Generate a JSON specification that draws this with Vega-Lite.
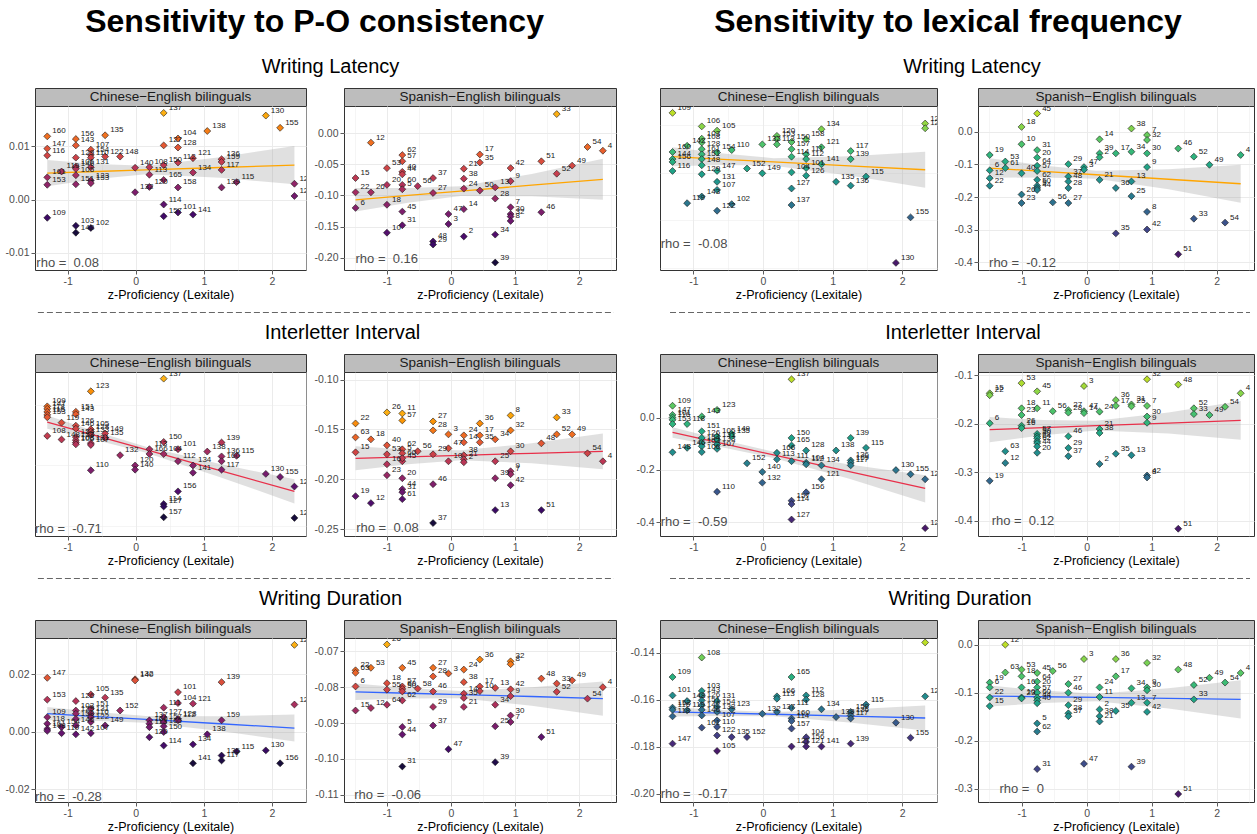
{
"$schema": "https://vega.github.io/schema/vega-lite/v6.json",
"background": "white",
"padding": {"top": 5, "left": 4, "right": 0, "bottom": 0},
"config": {
  "font": "Liberation Sans",
  "view": {"stroke": "#333333", "strokeWidth": 1},
  "axis": {"domain": false, "labelColor": "#4d4d4d", "labelFontSize": 10.5, "tickColor": "#333333", "tickSize": 4, "tickWidth": 0.8, "gridColor": "#ebebeb", "titleFontSize": 12.5, "titleFontWeight": "normal", "titleColor": "#000000", "labelPadding": 2, "titlePadding": 2, "labelOverlap": false}
},
"datasets": {
"p1": [{"x":0.41,"y":0.0163,"id":137},{"x":1.91,"y":0.0158,"id":130},{"x":2.12,"y":0.0135,"id":155},{"x":-1.30,"y":0.0119,"id":160},{"x":-1.30,"y":0.0096,"id":147},{"x":-1.30,"y":0.0083,"id":116},{"x":-0.88,"y":0.0114,"id":156},{"x":-0.88,"y":0.0102,"id":143},{"x":-0.88,"y":0.0079,"id":129},{"x":-0.66,"y":0.0094,"id":107},{"x":-0.66,"y":0.0084,"id":154},{"x":-0.45,"y":0.0121,"id":135},{"x":-0.45,"y":0.0081,"id":122},{"x":-0.23,"y":0.0081,"id":148},{"x":-0.88,"y":0.0062,"id":106},{"x":-0.88,"y":0.0058,"id":146},{"x":-0.88,"y":0.0046,"id":105},{"x":-0.88,"y":0.0029,"id":151},{"x":-1.09,"y":0.0053,"id":119},{"x":-1.30,"y":0.0042,"id":161},{"x":-1.30,"y":0.0028,"id":153},{"x":-0.66,"y":0.0061,"id":131},{"x":-0.66,"y":0.0036,"id":123},{"x":-0.66,"y":0.0031,"id":133},{"x":-0.01,"y":0.0060,"id":140},{"x":0.20,"y":0.0061,"id":108},{"x":0.20,"y":0.0047,"id":113},{"x":0.20,"y":0.0024,"id":120},{"x":0.41,"y":0.0102,"id":127},{"x":0.41,"y":0.0065,"id":150},{"x":0.41,"y":0.0037,"id":165},{"x":0.41,"y":-0.0009,"id":114},{"x":0.41,"y":-0.0031,"id":157},{"x":0.62,"y":0.0115,"id":104},{"x":0.62,"y":0.0098,"id":128},{"x":0.62,"y":0.0070,"id":112},{"x":0.62,"y":0.0023,"id":158},{"x":0.62,"y":-0.0024,"id":101},{"x":0.84,"y":0.0078,"id":121},{"x":0.84,"y":0.0051,"id":134},{"x":0.84,"y":-0.0028,"id":141},{"x":1.05,"y":0.0129,"id":138},{"x":1.26,"y":0.0076,"id":136},{"x":1.26,"y":0.0071,"id":159},{"x":1.26,"y":0.0056,"id":117},{"x":1.26,"y":0.0023,"id":139},{"x":1.48,"y":0.0033,"id":115},{"x":2.33,"y":0.0030,"id":124},{"x":2.33,"y":0.0007,"id":125},{"x":-0.01,"y":0.0014,"id":132},{"x":-1.30,"y":-0.0034,"id":109},{"x":-0.88,"y":-0.0049,"id":103},{"x":-0.88,"y":-0.0062,"id":142},{"x":-0.66,"y":-0.0053,"id":102},{"x":-0.66,"y":0.0079,"id":110}],
"f1": [{"x":-1.30,"y":0.0050,"lo":0.00252,"hi":0.00748},{"x":-0.575,"y":0.0053,"lo":0.00388,"hi":0.00672},{"x":0.15,"y":0.0056,"lo":0.0048,"hi":0.0064},{"x":1.24,"y":0.00605,"lo":0.00412,"hi":0.00798},{"x":2.33,"y":0.0065,"lo":0.0029,"hi":0.0101}],
"p2": [{"x":1.65,"y":0.031,"id":33},{"x":-1.25,"y":-0.015,"id":12},{"x":-0.76,"y":-0.035,"id":62},{"x":-0.76,"y":-0.045,"id":57},{"x":-1.00,"y":-0.056,"id":53},{"x":-0.76,"y":-0.062,"id":40},{"x":-0.76,"y":-0.066,"id":44},{"x":-1.49,"y":-0.072,"id":15},{"x":-0.28,"y":-0.072,"id":37},{"x":-1.00,"y":-0.083,"id":20},{"x":-0.76,"y":-0.083,"id":60},{"x":-0.76,"y":-0.090,"id":5},{"x":-1.49,"y":-0.095,"id":22},{"x":-1.25,"y":-0.095,"id":26},{"x":-0.52,"y":-0.085,"id":56},{"x":-0.28,"y":-0.096,"id":27},{"x":0.20,"y":-0.057,"id":21},{"x":0.20,"y":-0.073,"id":38},{"x":0.20,"y":-0.089,"id":24},{"x":0.45,"y":-0.034,"id":17},{"x":0.45,"y":-0.047,"id":35},{"x":0.45,"y":-0.092,"id":50},{"x":0.69,"y":-0.087,"id":13},{"x":0.93,"y":-0.056,"id":42},{"x":0.93,"y":-0.077,"id":9},{"x":0.69,"y":-0.105,"id":28},{"x":0.93,"y":-0.119,"id":7},{"x":0.93,"y":-0.130,"id":30},{"x":0.93,"y":-0.134,"id":32},{"x":0.93,"y":-0.141,"id":8},{"x":1.41,"y":-0.045,"id":51},{"x":1.65,"y":-0.065,"id":52},{"x":1.89,"y":-0.052,"id":49},{"x":2.13,"y":-0.022,"id":54},{"x":2.37,"y":-0.028,"id":4},{"x":1.41,"y":-0.127,"id":46},{"x":-1.00,"y":-0.115,"id":18},{"x":-1.49,"y":-0.120,"id":6},{"x":-0.76,"y":-0.126,"id":45},{"x":-1.00,"y":-0.160,"id":10},{"x":-0.76,"y":-0.148,"id":31},{"x":-0.04,"y":-0.130,"id":47},{"x":-0.04,"y":-0.146,"id":3},{"x":0.20,"y":-0.122,"id":14},{"x":0.20,"y":-0.166,"id":2},{"x":0.69,"y":-0.163,"id":34},{"x":-0.28,"y":-0.174,"id":48},{"x":-0.28,"y":-0.179,"id":29},{"x":0.69,"y":-0.208,"id":39}],
"f2": [{"x":-1.49,"y":-0.107,"lo":-0.126,"hi":-0.088},{"x":-0.67,"y":-0.100,"lo":-0.1118,"hi":-0.0882},{"x":0.15,"y":-0.093,"lo":-0.101,"hi":-0.085},{"x":1.26,"y":-0.0835,"lo":-0.1014,"hi":-0.0656},{"x":2.37,"y":-0.074,"lo":-0.107,"hi":-0.041}],
"p3": [{"x":-1.30,"y":-0.0235,"id":109},{"x":-0.88,"y":-0.052,"id":106},{"x":-0.66,"y":-0.061,"id":105},{"x":-0.88,"y":-0.078,"id":103},{"x":-0.88,"y":-0.086,"id":108},{"x":-1.09,"y":-0.093,"id":142},{"x":-1.30,"y":-0.106,"id":160},{"x":-1.30,"y":-0.121,"id":144},{"x":-1.30,"y":-0.127,"id":156},{"x":-1.30,"y":-0.146,"id":116},{"x":-0.88,"y":-0.100,"id":128},{"x":-0.88,"y":-0.111,"id":161},{"x":-0.88,"y":-0.121,"id":151},{"x":-0.88,"y":-0.134,"id":148},{"x":-0.88,"y":-0.153,"id":129},{"x":-0.66,"y":-0.107,"id":154},{"x":-0.45,"y":-0.102,"id":110},{"x":-0.66,"y":-0.146,"id":147},{"x":-0.66,"y":-0.169,"id":131},{"x":-0.66,"y":-0.186,"id":107},{"x":-0.66,"y":-0.230,"id":122},{"x":-0.88,"y":-0.200,"id":143},{"x":-1.09,"y":-0.214,"id":119},{"x":-0.45,"y":-0.216,"id":102},{"x":-0.23,"y":-0.141,"id":152},{"x":-0.01,"y":-0.151,"id":149},{"x":-0.01,"y":-0.090,"id":132},{"x":0.20,"y":-0.072,"id":120},{"x":0.20,"y":-0.079,"id":153},{"x":0.20,"y":-0.090,"id":113},{"x":0.41,"y":-0.085,"id":150},{"x":0.41,"y":-0.100,"id":157},{"x":0.41,"y":-0.116,"id":114},{"x":0.41,"y":-0.149,"id":104},{"x":0.41,"y":-0.183,"id":127},{"x":0.41,"y":-0.218,"id":137},{"x":0.62,"y":-0.079,"id":158},{"x":0.62,"y":-0.111,"id":111},{"x":0.62,"y":-0.121,"id":112},{"x":0.62,"y":-0.140,"id":101},{"x":0.62,"y":-0.156,"id":126},{"x":0.84,"y":-0.058,"id":134},{"x":0.84,"y":-0.096,"id":121},{"x":0.84,"y":-0.132,"id":141},{"x":1.26,"y":-0.104,"id":117},{"x":1.26,"y":-0.121,"id":139},{"x":1.26,"y":-0.177,"id":136},{"x":1.05,"y":-0.169,"id":135},{"x":1.48,"y":-0.158,"id":115},{"x":2.12,"y":-0.244,"id":155},{"x":1.91,"y":-0.340,"id":130},{"x":2.33,"y":-0.046,"id":124},{"x":2.33,"y":-0.056,"id":125}],
"f3": [{"x":-1.30,"y":-0.116,"lo":-0.136,"hi":-0.096},{"x":-0.575,"y":-0.1215,"lo":-0.1337,"hi":-0.1093},{"x":0.15,"y":-0.127,"lo":-0.135,"hi":-0.119},{"x":1.24,"y":-0.1353,"lo":-0.1555,"hi":-0.1151},{"x":2.33,"y":-0.1435,"lo":-0.1815,"hi":-0.1055}],
"p4": [{"x":-0.76,"y":0.056,"id":45},{"x":-1.00,"y":0.015,"id":18},{"x":-1.00,"y":-0.038,"id":10},{"x":-1.49,"y":-0.071,"id":19},{"x":-1.25,"y":-0.091,"id":53},{"x":-0.76,"y":-0.056,"id":31},{"x":-0.76,"y":-0.079,"id":20},{"x":-0.76,"y":-0.104,"id":64},{"x":-0.76,"y":-0.120,"id":57},{"x":-0.76,"y":-0.147,"id":62},{"x":-0.76,"y":-0.165,"id":50},{"x":-0.76,"y":-0.172,"id":5},{"x":-0.76,"y":-0.178,"id":44},{"x":-1.49,"y":-0.118,"id":6},{"x":-1.49,"y":-0.142,"id":12},{"x":-1.49,"y":-0.165,"id":22},{"x":-1.25,"y":-0.111,"id":61},{"x":-1.00,"y":-0.127,"id":40},{"x":-1.00,"y":-0.192,"id":26},{"x":-1.00,"y":-0.218,"id":23},{"x":-0.52,"y":-0.216,"id":56},{"x":-0.28,"y":-0.218,"id":27},{"x":-0.28,"y":-0.099,"id":29},{"x":-0.28,"y":-0.137,"id":37},{"x":-0.28,"y":-0.152,"id":48},{"x":-0.28,"y":-0.172,"id":28},{"x":-0.04,"y":-0.108,"id":47},{"x":-0.04,"y":-0.116,"id":3},{"x":0.20,"y":-0.023,"id":14},{"x":0.20,"y":-0.066,"id":39},{"x":0.20,"y":-0.078,"id":2},{"x":0.20,"y":-0.147,"id":21},{"x":0.45,"y":-0.066,"id":17},{"x":0.45,"y":-0.172,"id":36},{"x":0.45,"y":-0.311,"id":35},{"x":0.69,"y":0.010,"id":38},{"x":0.69,"y":-0.061,"id":34},{"x":0.69,"y":-0.152,"id":13},{"x":0.69,"y":-0.197,"id":25},{"x":0.93,"y":-0.010,"id":7},{"x":0.93,"y":-0.025,"id":32},{"x":0.93,"y":-0.066,"id":30},{"x":0.93,"y":-0.108,"id":9},{"x":0.93,"y":-0.245,"id":8},{"x":0.93,"y":-0.299,"id":42},{"x":1.41,"y":-0.051,"id":46},{"x":1.41,"y":-0.375,"id":51},{"x":1.65,"y":-0.076,"id":52},{"x":1.65,"y":-0.266,"id":33},{"x":1.89,"y":-0.101,"id":49},{"x":2.13,"y":-0.278,"id":54},{"x":2.37,"y":-0.071,"id":4}],
"f4": [{"x":-1.49,"y":-0.111,"lo":-0.141,"hi":-0.081},{"x":-0.67,"y":-0.1212,"lo":-0.1395,"hi":-0.1030},{"x":0.15,"y":-0.1314,"lo":-0.1434,"hi":-0.1194},{"x":1.26,"y":-0.1452,"lo":-0.1760,"hi":-0.1144},{"x":2.37,"y":-0.159,"lo":-0.217,"hi":-0.101}],
"p5": [{"x":0.41,"y":0.019,"id":137},{"x":-0.66,"y":-0.002,"id":123},{"x":-1.30,"y":-0.027,"id":109},{"x":-1.30,"y":-0.031,"id":147},{"x":-1.30,"y":-0.036,"id":118},{"x":-1.30,"y":-0.041,"id":116},{"x":-1.30,"y":-0.045,"id":153},{"x":-0.88,"y":-0.036,"id":151},{"x":-0.88,"y":-0.040,"id":143},{"x":-1.09,"y":-0.054,"id":119},{"x":-0.88,"y":-0.059,"id":126},{"x":-0.88,"y":-0.064,"id":146},{"x":-1.30,"y":-0.076,"id":108},{"x":-1.09,"y":-0.082,"id":148},{"x":-0.88,"y":-0.078,"id":154},{"x":-0.88,"y":-0.083,"id":158},{"x":-0.88,"y":-0.087,"id":103},{"x":-0.88,"y":-0.090,"id":106},{"x":-0.66,"y":-0.065,"id":105},{"x":-0.66,"y":-0.069,"id":128},{"x":-0.66,"y":-0.074,"id":133},{"x":-0.66,"y":-0.088,"id":131},{"x":-0.66,"y":-0.091,"id":107},{"x":-0.45,"y":-0.072,"id":149},{"x":-0.45,"y":-0.079,"id":135},{"x":-0.66,"y":-0.133,"id":110},{"x":-0.23,"y":-0.108,"id":132},{"x":-0.01,"y":-0.125,"id":120},{"x":-0.01,"y":-0.132,"id":140},{"x":0.20,"y":-0.098,"id":113},{"x":0.20,"y":-0.106,"id":166},{"x":0.41,"y":-0.086,"id":150},{"x":0.41,"y":-0.106,"id":104},{"x":0.41,"y":-0.189,"id":114},{"x":0.41,"y":-0.193,"id":127},{"x":0.41,"y":-0.211,"id":157},{"x":0.62,"y":-0.098,"id":101},{"x":0.62,"y":-0.118,"id":112},{"x":0.62,"y":-0.168,"id":156},{"x":0.84,"y":-0.125,"id":134},{"x":0.84,"y":-0.137,"id":141},{"x":1.05,"y":-0.102,"id":138},{"x":1.26,"y":-0.110,"id":136},{"x":1.26,"y":-0.087,"id":139},{"x":1.26,"y":-0.118,"id":160},{"x":1.26,"y":-0.132,"id":117},{"x":1.48,"y":-0.109,"id":115},{"x":1.91,"y":-0.139,"id":130},{"x":2.12,"y":-0.144,"id":155},{"x":2.33,"y":-0.160,"id":125},{"x":2.33,"y":-0.212,"id":124}],
"f5": [{"x":-1.30,"y":-0.053,"lo":-0.064,"hi":-0.042},{"x":-0.575,"y":-0.076,"lo":-0.083,"hi":-0.069},{"x":0.15,"y":-0.0989,"lo":-0.1039,"hi":-0.0939},{"x":1.24,"y":-0.1335,"lo":-0.1444,"hi":-0.1226},{"x":2.33,"y":-0.168,"lo":-0.188,"hi":-0.148}],
"p6": [{"x":-1.00,"y":-0.133,"id":26},{"x":-0.76,"y":-0.134,"id":11},{"x":-0.76,"y":-0.141,"id":57},{"x":-1.49,"y":-0.144,"id":22},{"x":-1.49,"y":-0.158,"id":63},{"x":-1.49,"y":-0.173,"id":15},{"x":-1.25,"y":-0.160,"id":18},{"x":-1.00,"y":-0.166,"id":40},{"x":-0.76,"y":-0.170,"id":62},{"x":-0.76,"y":-0.174,"id":5},{"x":-0.76,"y":-0.182,"id":45},{"x":-0.52,"y":-0.172,"id":56},{"x":-1.00,"y":-0.175,"id":53},{"x":-1.00,"y":-0.185,"id":16},{"x":-1.00,"y":-0.196,"id":23},{"x":-0.76,"y":-0.179,"id":60},{"x":-0.76,"y":-0.199,"id":20},{"x":-0.76,"y":-0.210,"id":44},{"x":-0.76,"y":-0.213,"id":31},{"x":-0.76,"y":-0.220,"id":61},{"x":-1.49,"y":-0.217,"id":19},{"x":-1.25,"y":-0.224,"id":12},{"x":-0.28,"y":-0.142,"id":27},{"x":-0.28,"y":-0.151,"id":28},{"x":-0.28,"y":-0.175,"id":29},{"x":-0.28,"y":-0.205,"id":46},{"x":-0.28,"y":-0.244,"id":37},{"x":-0.04,"y":-0.155,"id":3},{"x":-0.04,"y":-0.169,"id":47},{"x":-0.04,"y":-0.182,"id":10},{"x":0.20,"y":-0.156,"id":24},{"x":0.20,"y":-0.163,"id":14},{"x":0.20,"y":-0.176,"id":38},{"x":0.20,"y":-0.180,"id":21},{"x":0.20,"y":-0.183,"id":2},{"x":0.45,"y":-0.144,"id":36},{"x":0.45,"y":-0.156,"id":17},{"x":0.45,"y":-0.163,"id":35},{"x":0.69,"y":-0.160,"id":34},{"x":0.69,"y":-0.182,"id":25},{"x":0.69,"y":-0.199,"id":39},{"x":0.69,"y":-0.231,"id":13},{"x":0.93,"y":-0.136,"id":8},{"x":0.93,"y":-0.151,"id":32},{"x":0.93,"y":-0.172,"id":30},{"x":0.93,"y":-0.192,"id":9},{"x":0.93,"y":-0.195,"id":7},{"x":0.93,"y":-0.206,"id":42},{"x":1.41,"y":-0.164,"id":48},{"x":1.65,"y":-0.155,"id":52},{"x":1.65,"y":-0.138,"id":33},{"x":1.89,"y":-0.155,"id":49},{"x":2.13,"y":-0.174,"id":54},{"x":2.37,"y":-0.182,"id":4},{"x":1.41,"y":-0.231,"id":51}],
"f6": [{"x":-1.49,"y":-0.179,"lo":-0.191,"hi":-0.167},{"x":-0.67,"y":-0.1775,"lo":-0.1849,"hi":-0.1701},{"x":0.15,"y":-0.176,"lo":-0.181,"hi":-0.171},{"x":1.26,"y":-0.174,"lo":-0.184,"hi":-0.164},{"x":2.37,"y":-0.172,"lo":-0.190,"hi":-0.154}],
"p7": [{"x":0.41,"y":0.146,"id":137},{"x":-1.30,"y":0.045,"id":109},{"x":-1.30,"y":0.010,"id":147},{"x":-1.30,"y":0.000,"id":101},{"x":-1.30,"y":-0.009,"id":116},{"x":-1.30,"y":-0.025,"id":153},{"x":-0.66,"y":0.029,"id":123},{"x":-0.88,"y":0.004,"id":143},{"x":-1.09,"y":-0.025,"id":118},{"x":-1.09,"y":-0.116,"id":146},{"x":-1.30,"y":-0.133,"id":148},{"x":-0.88,"y":-0.053,"id":151},{"x":-0.88,"y":-0.078,"id":126},{"x":-0.88,"y":-0.097,"id":154},{"x":-0.88,"y":-0.110,"id":103},{"x":-0.88,"y":-0.132,"id":106},{"x":-0.66,"y":-0.072,"id":105},{"x":-0.66,"y":-0.085,"id":131},{"x":-0.66,"y":-0.103,"id":133},{"x":-0.66,"y":-0.120,"id":107},{"x":-0.45,"y":-0.062,"id":149},{"x":-0.45,"y":-0.072,"id":135},{"x":-0.23,"y":-0.175,"id":152},{"x":-0.66,"y":-0.284,"id":110},{"x":-0.01,"y":-0.208,"id":140},{"x":-0.01,"y":-0.249,"id":132},{"x":0.20,"y":-0.135,"id":166},{"x":0.20,"y":-0.160,"id":113},{"x":0.41,"y":-0.078,"id":150},{"x":0.41,"y":-0.107,"id":165},{"x":0.41,"y":-0.167,"id":111},{"x":0.41,"y":-0.318,"id":157},{"x":0.41,"y":-0.331,"id":114},{"x":0.41,"y":-0.390,"id":127},{"x":0.62,"y":-0.126,"id":128},{"x":0.62,"y":-0.173,"id":104},{"x":0.62,"y":-0.179,"id":112},{"x":0.62,"y":-0.286,"id":156},{"x":0.84,"y":-0.183,"id":134},{"x":0.84,"y":-0.236,"id":121},{"x":1.05,"y":-0.126,"id":138},{"x":1.26,"y":-0.078,"id":139},{"x":1.26,"y":-0.164,"id":136},{"x":1.26,"y":-0.173,"id":159},{"x":1.26,"y":-0.183,"id":117},{"x":1.48,"y":-0.116,"id":115},{"x":1.91,"y":-0.201,"id":130},{"x":2.12,"y":-0.217,"id":155},{"x":2.33,"y":-0.236,"id":125},{"x":2.33,"y":-0.423,"id":124}],
"f7": [{"x":-1.30,"y":-0.057,"lo":-0.077,"hi":-0.037},{"x":-0.575,"y":-0.100,"lo":-0.1144,"hi":-0.0856},{"x":0.15,"y":-0.143,"lo":-0.155,"hi":-0.131},{"x":1.24,"y":-0.207,"lo":-0.2341,"hi":-0.1799},{"x":2.33,"y":-0.271,"lo":-0.325,"hi":-0.221}],
"p8": [{"x":-1.00,"y":-0.116,"id":53},{"x":-1.49,"y":-0.137,"id":15},{"x":-1.49,"y":-0.141,"id":22},{"x":-0.04,"y":-0.122,"id":3},{"x":-0.76,"y":-0.133,"id":45},{"x":0.93,"y":-0.108,"id":32},{"x":1.41,"y":-0.119,"id":48},{"x":2.37,"y":-0.137,"id":4},{"x":-1.00,"y":-0.168,"id":18},{"x":-0.76,"y":-0.168,"id":11},{"x":-1.00,"y":-0.182,"id":23},{"x":-1.00,"y":-0.204,"id":26},{"x":-1.00,"y":-0.209,"id":16},{"x":-1.49,"y":-0.199,"id":6},{"x":-0.52,"y":-0.174,"id":56},{"x":-0.28,"y":-0.172,"id":27},{"x":-0.28,"y":-0.177,"id":28},{"x":-0.04,"y":-0.174,"id":47},{"x":-0.04,"y":-0.178,"id":14},{"x":0.20,"y":-0.175,"id":24},{"x":0.45,"y":-0.151,"id":36},{"x":0.45,"y":-0.163,"id":17},{"x":0.69,"y":-0.160,"id":31},{"x":0.69,"y":-0.164,"id":25},{"x":0.93,"y":-0.163,"id":7},{"x":0.93,"y":-0.185,"id":30},{"x":0.93,"y":-0.198,"id":9},{"x":1.65,"y":-0.168,"id":52},{"x":1.65,"y":-0.180,"id":33},{"x":1.89,"y":-0.182,"id":49},{"x":2.13,"y":-0.165,"id":54},{"x":-0.76,"y":-0.221,"id":57},{"x":-0.76,"y":-0.226,"id":50},{"x":-0.76,"y":-0.230,"id":40},{"x":-0.76,"y":-0.236,"id":64},{"x":-0.76,"y":-0.240,"id":62},{"x":-0.76,"y":-0.247,"id":44},{"x":-0.76,"y":-0.260,"id":20},{"x":-0.28,"y":-0.226,"id":46},{"x":-0.28,"y":-0.250,"id":29},{"x":-0.28,"y":-0.267,"id":37},{"x":0.20,"y":-0.211,"id":21},{"x":0.20,"y":-0.219,"id":38},{"x":0.20,"y":-0.283,"id":2},{"x":0.45,"y":-0.262,"id":35},{"x":0.69,"y":-0.265,"id":13},{"x":0.93,"y":-0.307,"id":42},{"x":0.93,"y":-0.311,"id":8},{"x":-1.25,"y":-0.257,"id":63},{"x":-1.25,"y":-0.281,"id":12},{"x":-1.49,"y":-0.318,"id":19},{"x":1.41,"y":-0.417,"id":51}],
"f8": [{"x":-1.49,"y":-0.212,"lo":-0.238,"hi":-0.186},{"x":-0.67,"y":-0.208,"lo":-0.2236,"hi":-0.1924},{"x":0.15,"y":-0.2039,"lo":-0.2139,"hi":-0.1939},{"x":1.26,"y":-0.1985,"lo":-0.2203,"hi":-0.1767},{"x":2.37,"y":-0.193,"lo":-0.233,"hi":-0.153}],
"p9": [{"x":2.33,"y":0.0303,"id":124},{"x":-1.30,"y":0.0188,"id":147},{"x":-1.30,"y":0.0112,"id":153},{"x":1.26,"y":0.0173,"id":139},{"x":-0.01,"y":0.0183,"id":132},{"x":-0.01,"y":0.0179,"id":140},{"x":0.62,"y":0.0138,"id":101},{"x":0.62,"y":0.0100,"id":104},{"x":0.84,"y":0.0098,"id":121},{"x":2.33,"y":0.0095,"id":125},{"x":-0.66,"y":0.0130,"id":105},{"x":-0.45,"y":0.0119,"id":135},{"x":-0.88,"y":0.0107,"id":126},{"x":-0.23,"y":0.0074,"id":152},{"x":0.41,"y":0.0084,"id":111},{"x":0.62,"y":0.0045,"id":128},{"x":0.62,"y":0.0040,"id":112},{"x":1.26,"y":0.0040,"id":159},{"x":1.05,"y":-0.0009,"id":138},{"x":0.84,"y":-0.0044,"id":134},{"x":1.26,"y":-0.0083,"id":136},{"x":1.26,"y":-0.0100,"id":117},{"x":1.48,"y":-0.0069,"id":115},{"x":1.91,"y":-0.0065,"id":130},{"x":2.12,"y":-0.0110,"id":156},{"x":0.84,"y":-0.0110,"id":141},{"x":0.41,"y":-0.0048,"id":114},{"x":0.20,"y":-0.0019,"id":120},{"x":0.20,"y":0.0040,"id":137},{"x":0.20,"y":0.0028,"id":166},{"x":0.20,"y":0.0016,"id":113},{"x":0.41,"y":0.0051,"id":127},{"x":0.41,"y":0.0034,"id":157},{"x":0.41,"y":0.0019,"id":165},{"x":0.41,"y":-0.0001,"id":150},{"x":-1.30,"y":0.0051,"id":109},{"x":-1.30,"y":0.0028,"id":118},{"x":-1.30,"y":0.0010,"id":161},{"x":-1.09,"y":0.0016,"id":154},{"x":-1.09,"y":-0.0005,"id":119},{"x":-0.88,"y":0.0074,"id":103},{"x":-0.88,"y":0.0063,"id":129},{"x":-0.88,"y":0.0045,"id":158},{"x":-0.88,"y":0.0022,"id":146},{"x":-0.88,"y":-0.0009,"id":142},{"x":-0.66,"y":0.0080,"id":151},{"x":-0.66,"y":0.0063,"id":131},{"x":-0.66,"y":0.0051,"id":116},{"x":-0.66,"y":0.0034,"id":122},{"x":-0.66,"y":-0.0005,"id":107},{"x":-0.45,"y":0.0022,"id":149},{"x":-1.30,"y":0.0003,"id":148}],
"f9": [{"x":-1.30,"y":0.0063,"lo":0.0040,"hi":0.0086},{"x":-0.575,"y":0.0053,"lo":0.00375,"hi":0.00685},{"x":0.15,"y":0.0043,"lo":0.0031,"hi":0.0055},{"x":1.24,"y":0.0028,"lo":0.00023,"hi":0.00537},{"x":2.33,"y":0.0013,"lo":-0.0034,"hi":0.0060}],
"p10": [{"x":-1.00,"y":-0.0681,"id":26},{"x":0.45,"y":-0.0723,"id":36},{"x":0.93,"y":-0.0728,"id":32},{"x":0.93,"y":-0.0736,"id":8},{"x":-1.49,"y":-0.0753,"id":22},{"x":-1.49,"y":-0.0760,"id":63},{"x":-1.25,"y":-0.0746,"id":53},{"x":-0.76,"y":-0.0746,"id":45},{"x":-0.28,"y":-0.0746,"id":27},{"x":-0.04,"y":-0.0762,"id":3},{"x":0.20,"y":-0.0751,"id":24},{"x":-0.28,"y":-0.0770,"id":28},{"x":-1.00,"y":-0.0789,"id":18},{"x":-1.00,"y":-0.0807,"id":55},{"x":-1.49,"y":-0.0798,"id":6},{"x":-0.76,"y":-0.0798,"id":57},{"x":-0.76,"y":-0.0805,"id":60},{"x":-0.76,"y":-0.0812,"id":50},{"x":-0.52,"y":-0.0804,"id":58},{"x":-0.28,"y":-0.0812,"id":46},{"x":0.20,"y":-0.0786,"id":38},{"x":0.20,"y":-0.0818,"id":14},{"x":0.20,"y":-0.0830,"id":35},{"x":0.45,"y":-0.0798,"id":17},{"x":0.45,"y":-0.0811,"id":10},{"x":0.69,"y":-0.0802,"id":13},{"x":0.93,"y":-0.0806,"id":42},{"x":0.93,"y":-0.0825,"id":9},{"x":1.41,"y":-0.0776,"id":48},{"x":1.65,"y":-0.0790,"id":33},{"x":1.65,"y":-0.0813,"id":52},{"x":1.89,"y":-0.0781,"id":49},{"x":2.13,"y":-0.0832,"id":54},{"x":2.37,"y":-0.0800,"id":4},{"x":-0.76,"y":-0.0837,"id":62},{"x":-1.00,"y":-0.0849,"id":64},{"x":-0.28,"y":-0.0855,"id":29},{"x":0.20,"y":-0.0855,"id":21},{"x":0.69,"y":-0.0849,"id":34},{"x":0.93,"y":-0.0879,"id":30},{"x":0.93,"y":-0.0897,"id":7},{"x":0.69,"y":-0.0909,"id":25},{"x":-1.49,"y":-0.0865,"id":15},{"x":-1.25,"y":-0.0858,"id":12},{"x":-0.76,"y":-0.0911,"id":5},{"x":-0.76,"y":-0.0932,"id":44},{"x":-0.28,"y":-0.0907,"id":37},{"x":1.41,"y":-0.0939,"id":51},{"x":-0.04,"y":-0.0973,"id":47},{"x":0.69,"y":-0.1009,"id":39},{"x":-0.76,"y":-0.1021,"id":31}],
"f10": [{"x":-1.49,"y":-0.0813,"lo":-0.0836,"hi":-0.0790},{"x":-0.67,"y":-0.0817,"lo":-0.08314,"hi":-0.08026},{"x":0.15,"y":-0.0821,"lo":-0.0831,"hi":-0.0811},{"x":1.26,"y":-0.0826,"lo":-0.08515,"hi":-0.08005},{"x":2.37,"y":-0.0832,"lo":-0.0880,"hi":-0.0784}],
"p11": [{"x":2.33,"y":-0.1357,"id":124},{"x":-0.88,"y":-0.1421,"id":108},{"x":-1.30,"y":-0.1504,"id":109},{"x":0.41,"y":-0.1504,"id":165},{"x":-1.30,"y":-0.1582,"id":101},{"x":-0.88,"y":-0.1563,"id":103},{"x":2.33,"y":-0.1586,"id":125},{"x":-1.30,"y":-0.1634,"id":153},{"x":-1.30,"y":-0.1643,"id":116},{"x":-1.09,"y":-0.1606,"id":148},{"x":0.20,"y":-0.1586,"id":166},{"x":0.20,"y":-0.1596,"id":113},{"x":0.20,"y":-0.1652,"id":137},{"x":0.62,"y":-0.1582,"id":112},{"x":0.62,"y":-0.1600,"id":128},{"x":1.48,"y":-0.1621,"id":115},{"x":0.84,"y":-0.1641,"id":134},{"x":-1.30,"y":-0.1671,"id":118},{"x":-1.09,"y":-0.1645,"id":119},{"x":-0.88,"y":-0.1582,"id":143},{"x":-0.88,"y":-0.1603,"id":126},{"x":-0.88,"y":-0.1624,"id":151},{"x":-0.88,"y":-0.1643,"id":142},{"x":-0.88,"y":-0.1667,"id":146},{"x":-0.66,"y":-0.1606,"id":131},{"x":-0.66,"y":-0.1631,"id":154},{"x":-0.66,"y":-0.1652,"id":133},{"x":-0.66,"y":-0.1688,"id":107},{"x":-0.66,"y":-0.1716,"id":110},{"x":-0.66,"y":-0.1752,"id":122},{"x":-0.45,"y":-0.1641,"id":123},{"x":-0.01,"y":-0.1660,"id":132},{"x":0.41,"y":-0.1635,"id":111},{"x":0.41,"y":-0.1680,"id":160},{"x":0.41,"y":-0.1691,"id":114},{"x":0.41,"y":-0.1723,"id":157},{"x":1.05,"y":-0.1674,"id":138},{"x":1.26,"y":-0.1652,"id":159},{"x":1.26,"y":-0.1667,"id":136},{"x":1.26,"y":-0.1680,"id":117},{"x":1.91,"y":-0.1698,"id":130},{"x":2.12,"y":-0.1762,"id":155},{"x":1.26,"y":-0.1787,"id":139},{"x":0.84,"y":-0.1799,"id":141},{"x":0.41,"y":-0.1799,"id":127},{"x":0.62,"y":-0.1760,"id":104},{"x":0.62,"y":-0.1780,"id":156},{"x":0.62,"y":-0.1799,"id":121},{"x":-0.23,"y":-0.1759,"id":152},{"x":-0.45,"y":-0.1759,"id":135},{"x":-0.66,"y":-0.1818,"id":105},{"x":-1.30,"y":-0.1787,"id":147},{"x":-0.88,"y":-0.1719,"id":161}],
"f11": [{"x":-1.30,"y":-0.1652,"lo":-0.1672,"hi":-0.1632},{"x":-0.575,"y":-0.1657,"lo":-0.16697,"hi":-0.16443},{"x":0.15,"y":-0.1662,"lo":-0.1671,"hi":-0.1653},{"x":1.24,"y":-0.1670,"lo":-0.16976,"hi":-0.16424},{"x":2.33,"y":-0.1678,"lo":-0.1731,"hi":-0.1625}],
"p12": [{"x":-1.25,"y":0.000,"id":12},{"x":-0.04,"y":-0.030,"id":3},{"x":0.45,"y":-0.030,"id":36},{"x":0.93,"y":-0.038,"id":32},{"x":1.41,"y":-0.052,"id":48},{"x":1.89,"y":-0.069,"id":49},{"x":2.37,"y":-0.059,"id":4},{"x":2.13,"y":-0.079,"id":54},{"x":0.45,"y":-0.066,"id":17},{"x":-1.25,"y":-0.058,"id":63},{"x":-1.00,"y":-0.052,"id":53},{"x":-1.00,"y":-0.066,"id":18},{"x":-0.76,"y":-0.059,"id":45},{"x":-0.52,"y":-0.055,"id":56},{"x":-1.49,"y":-0.079,"id":19},{"x":-1.49,"y":-0.089,"id":6},{"x":-1.49,"y":-0.110,"id":22},{"x":-1.49,"y":-0.128,"id":15},{"x":-1.00,"y":-0.089,"id":16},{"x":-1.00,"y":-0.110,"id":10},{"x":-1.00,"y":-0.112,"id":23},{"x":-0.76,"y":-0.077,"id":64},{"x":-0.76,"y":-0.089,"id":20},{"x":-0.76,"y":-0.100,"id":57},{"x":-0.76,"y":-0.110,"id":60},{"x":-0.76,"y":-0.116,"id":44},{"x":-0.76,"y":-0.122,"id":40},{"x":-0.76,"y":-0.164,"id":5},{"x":-0.76,"y":-0.181,"id":62},{"x":-0.28,"y":-0.082,"id":27},{"x":-0.28,"y":-0.100,"id":46},{"x":-0.28,"y":-0.126,"id":29},{"x":-0.28,"y":-0.143,"id":28},{"x":-0.28,"y":-0.149,"id":37},{"x":0.20,"y":-0.089,"id":24},{"x":0.20,"y":-0.109,"id":11},{"x":0.20,"y":-0.135,"id":2},{"x":0.20,"y":-0.149,"id":38},{"x":0.20,"y":-0.160,"id":21},{"x":0.45,"y":-0.138,"id":35},{"x":0.69,"y":-0.091,"id":34},{"x":0.69,"y":-0.121,"id":13},{"x":0.93,"y":-0.089,"id":9},{"x":0.93,"y":-0.095,"id":30},{"x":0.93,"y":-0.121,"id":7},{"x":0.93,"y":-0.140,"id":42},{"x":1.65,"y":-0.084,"id":52},{"x":1.65,"y":-0.114,"id":33},{"x":-0.76,"y":-0.259,"id":31},{"x":-0.04,"y":-0.248,"id":47},{"x":0.69,"y":-0.254,"id":39},{"x":1.41,"y":-0.311,"id":51}],
"f12": [{"x":-1.49,"y":-0.107,"lo":-0.129,"hi":-0.085},{"x":-0.67,"y":-0.1085,"lo":-0.1215,"hi":-0.0955},{"x":0.15,"y":-0.110,"lo":-0.118,"hi":-0.102},{"x":1.26,"y":-0.112,"lo":-0.1332,"hi":-0.0908},{"x":2.37,"y":-0.114,"lo":-0.154,"hi":-0.074}]
},
"spacing": 12,
"resolve": {"scale": {"fill": "independent", "color": "independent"}, "legend": {"fill": "independent"}},
"hconcat": [
{
"title": {"text": "Sensitivity to P-O consistency", "fontSize": 32, "fontWeight": "bold", "anchor": "middle", "offset": 18.5, "dx": 4, "color": "#000000"},
"spacing": 10,
"resolve": {"scale": {"fill": "independent", "color": "independent"}, "legend": {"fill": "independent"}},
"vconcat": [
{
"title": {"text": "Writing Latency", "fontSize": 20, "fontWeight": "normal", "anchor": "middle", "offset": 10.5, "dx": 20, "color": "#000000"},
"spacing": 6,
"resolve": {"scale": {"fill": "independent", "color": "independent"}, "legend": {"fill": "independent"}},
"hconcat": [
{"vconcat": [
{"width": 271, "height": 18, "view": {"fill": "#bdbdbd", "stroke": "#333333"}, "data": {"values": [{}]}, "mark": {"type": "text", "fontSize": 13.5, "color": "#1a1a1a"}, "encoding": {"text": {"value": "Chinese−English bilinguals"}}},
{"width": 271, "height": 164, "view": {"fill": "#ffffff", "stroke": "#333333"},
 "encoding": {
  "x": {"field": "x", "type": "quantitative", "scale": {"domain": [-1.48, 2.5], "nice": false, "zero": false}, "axis": {"title": "z-Proficiency (Lexitale)", "values": [-1,-0.5,0,0.5,1,1.5,2,2.5], "labelExpr": "datum.value % 1 == 0 ? '' + datum.value : ''", "tickOpacity": {"condition": {"test": "datum.value % 1 != 0", "value": 0}, "value": 1}, "gridWidth": {"condition": {"test": "datum.value % 1 != 0", "value": 0.5}, "value": 1}}},
  "y": {"field": "y", "type": "quantitative", "scale": {"domain": [-0.0132, 0.0176], "nice": false, "zero": false}, "axis": {"title": null, "values": [-0.01,-0.005,0,0.005,0.01,0.015], "labelExpr": "abs(datum.value*100-round(datum.value*100))<0.01 ? replace(format(datum.value,'.2f'),'\u2212','-') : ''", "tickOpacity": {"condition": {"test": "abs(datum.value*100-round(datum.value*100))>0.01", "value": 0}, "value": 1}, "gridWidth": {"condition": {"test": "abs(datum.value*100-round(datum.value*100))>0.01", "value": 0.5}, "value": 1}}}
 },
 "layer": [
  {"data": {"name": "f1"}, "mark": {"type": "area", "color": "#999999", "opacity": 0.3}, "encoding": {"y": {"field": "lo", "type": "quantitative", "scale": {"domain": [-0.0132, 0.0176], "nice": false, "zero": false}, "axis": {"title": null}}, "y2": {"field": "hi"}}},
  {"data": {"name": "f1"}, "mark": {"type": "line", "color": "#FFA500", "strokeWidth": 1.3}},
  {"data": {"name": "p1"}, "mark": {"type": "point", "shape": "diamond", "filled": true, "size": 48, "stroke": "#1a1a1a", "strokeWidth": 0.6, "opacity": 1}, "encoding": {"fill": {"field": "y", "type": "quantitative", "scale": {"scheme": {"name": "inferno", "extent": [0.1, 0.82]}}, "legend": null}}},
  {"data": {"name": "p1"}, "mark": {"type": "text", "fontSize": 8, "dx": 5, "dy": -5, "align": "left", "color": "#1a1a1a", "clip": true}, "encoding": {"text": {"field": "id", "type": "nominal"}}},
  {"data": {"values": [{"x": -1.46, "y": -0.0119, "t": "rho = \u00a00.08"}]}, "mark": {"type": "text", "fontSize": 13, "align": "left", "baseline": "middle", "color": "#4d4d4d"}, "encoding": {"text": {"field": "t", "type": "nominal"}}}
 ]}
], "spacing": 0, "bounds": "flush", "resolve": {"scale": {"fill": "independent", "color": "independent"}, "legend": {"fill": "independent"}}},
{"vconcat": [
{"width": 272, "height": 18, "view": {"fill": "#bdbdbd", "stroke": "#333333"}, "data": {"values": [{}]}, "mark": {"type": "text", "fontSize": 13.5, "color": "#1a1a1a"}, "encoding": {"text": {"value": "Spanish−English bilinguals"}}},
{"width": 272, "height": 164, "view": {"fill": "#ffffff", "stroke": "#333333"},
 "encoding": {
  "x": {"field": "x", "type": "quantitative", "scale": {"domain": [-1.67, 2.575], "nice": false, "zero": false}, "axis": {"title": "z-Proficiency (Lexitale)", "values": [-1.5,-1,-0.5,0,0.5,1,1.5,2,2.5], "labelExpr": "datum.value % 1 == 0 ? '' + datum.value : ''", "tickOpacity": {"condition": {"test": "datum.value % 1 != 0", "value": 0}, "value": 1}, "gridWidth": {"condition": {"test": "datum.value % 1 != 0", "value": 0.5}, "value": 1}}},
  "y": {"field": "y", "type": "quantitative", "scale": {"domain": [-0.22, 0.044], "nice": false, "zero": false}, "axis": {"title": null, "values": [-0.2,-0.175,-0.15,-0.125,-0.1,-0.075,-0.05,-0.025,0,0.025], "labelExpr": "abs(datum.value*20-round(datum.value*20))<0.01 ? replace(format(datum.value,'.2f'),'\u2212','-') : ''", "tickOpacity": {"condition": {"test": "abs(datum.value*20-round(datum.value*20))>0.01", "value": 0}, "value": 1}, "gridWidth": {"condition": {"test": "abs(datum.value*20-round(datum.value*20))>0.01", "value": 0.5}, "value": 1}}}
 },
 "layer": [
  {"data": {"name": "f2"}, "mark": {"type": "area", "color": "#999999", "opacity": 0.3}, "encoding": {"y": {"field": "lo", "type": "quantitative", "scale": {"domain": [-0.22, 0.044], "nice": false, "zero": false}, "axis": {"title": null}}, "y2": {"field": "hi"}}},
  {"data": {"name": "f2"}, "mark": {"type": "line", "color": "#FFA500", "strokeWidth": 1.3}},
  {"data": {"name": "p2"}, "mark": {"type": "point", "shape": "diamond", "filled": true, "size": 48, "stroke": "#1a1a1a", "strokeWidth": 0.6, "opacity": 1}, "encoding": {"fill": {"field": "y", "type": "quantitative", "scale": {"scheme": {"name": "inferno", "extent": [0.1, 0.82]}}, "legend": null}}},
  {"data": {"name": "p2"}, "mark": {"type": "text", "fontSize": 8, "dx": 5, "dy": -5, "align": "left", "color": "#1a1a1a", "clip": true}, "encoding": {"text": {"field": "id", "type": "nominal"}}},
  {"data": {"values": [{"x": -1.49, "y": -0.2017, "t": "rho = \u00a00.16"}]}, "mark": {"type": "text", "fontSize": 13, "align": "left", "baseline": "middle", "color": "#4d4d4d"}, "encoding": {"text": {"field": "t", "type": "nominal"}}}
 ]}
], "spacing": 0, "bounds": "flush", "resolve": {"scale": {"fill": "independent", "color": "independent"}, "legend": {"fill": "independent"}}}
]
},
{"width": 579, "height": 1, "view": {"stroke": null}, "data": {"values": [{"a": 0.005, "b": 1}]}, "mark": {"type": "rule", "color": "#666666", "strokeDash": [6, 3], "strokeWidth": 1}, "encoding": {"x": {"field": "a", "type": "quantitative", "scale": {"domain": [0, 1]}, "axis": null}, "x2": {"field": "b"}, "y": {"datum": 0.5, "type": "quantitative", "scale": {"domain": [0, 1]}, "axis": null}}},
{
"title": {"text": "Interletter Interval", "fontSize": 20, "fontWeight": "normal", "anchor": "middle", "offset": 10.5, "dx": 20, "color": "#000000"},
"spacing": 6,
"resolve": {"scale": {"fill": "independent", "color": "independent"}, "legend": {"fill": "independent"}},
"hconcat": [
{"vconcat": [
{"width": 271, "height": 18, "view": {"fill": "#bdbdbd", "stroke": "#333333"}, "data": {"values": [{}]}, "mark": {"type": "text", "fontSize": 13.5, "color": "#1a1a1a"}, "encoding": {"text": {"value": "Chinese−English bilinguals"}}},
{"width": 271, "height": 164, "view": {"fill": "#ffffff", "stroke": "#333333"},
 "encoding": {
  "x": {"field": "x", "type": "quantitative", "scale": {"domain": [-1.48, 2.5], "nice": false, "zero": false}, "axis": {"title": "z-Proficiency (Lexitale)", "values": [-1,-0.5,0,0.5,1,1.5,2,2.5], "labelExpr": "datum.value % 1 == 0 ? '' + datum.value : ''", "tickOpacity": {"condition": {"test": "datum.value % 1 != 0", "value": 0}, "value": 1}, "gridWidth": {"condition": {"test": "datum.value % 1 != 0", "value": 0.5}, "value": 1}}},
  "y": {"field": "y", "type": "quantitative", "scale": {"domain": [-0.242, 0.03], "nice": false, "zero": false}, "axis": {"title": null, "values": [-0.225,-0.2,-0.175,-0.15,-0.125,-0.1,-0.075,-0.05,-0.025,0,0.025], "labelExpr": "abs(datum.value*20-round(datum.value*20))<0.01 ? replace(format(datum.value,'.2f'),'\u2212','-') : ''", "tickOpacity": {"condition": {"test": "abs(datum.value*20-round(datum.value*20))>0.01", "value": 0}, "value": 1}, "gridWidth": {"condition": {"test": "abs(datum.value*20-round(datum.value*20))>0.01", "value": 0.5}, "value": 1}}}
 },
 "layer": [
  {"data": {"name": "f5"}, "mark": {"type": "area", "color": "#999999", "opacity": 0.3}, "encoding": {"y": {"field": "lo", "type": "quantitative", "scale": {"domain": [-0.242, 0.03], "nice": false, "zero": false}, "axis": {"title": null}}, "y2": {"field": "hi"}}},
  {"data": {"name": "f5"}, "mark": {"type": "line", "color": "#E8304A", "strokeWidth": 1.3}},
  {"data": {"name": "p5"}, "mark": {"type": "point", "shape": "diamond", "filled": true, "size": 48, "stroke": "#1a1a1a", "strokeWidth": 0.6, "opacity": 1}, "encoding": {"fill": {"field": "y", "type": "quantitative", "scale": {"scheme": {"name": "inferno", "extent": [0.1, 0.82]}}, "legend": null}}},
  {"data": {"name": "p5"}, "mark": {"type": "text", "fontSize": 8, "dx": 5, "dy": -5, "align": "left", "color": "#1a1a1a", "clip": true}, "encoding": {"text": {"field": "id", "type": "nominal"}}},
  {"data": {"values": [{"x": -1.48, "y": -0.23, "t": "rho = \u00a0-0.71"}]}, "mark": {"type": "text", "fontSize": 13, "align": "left", "baseline": "middle", "color": "#4d4d4d"}, "encoding": {"text": {"field": "t", "type": "nominal"}}}
 ]}
], "spacing": 0, "bounds": "flush", "resolve": {"scale": {"fill": "independent", "color": "independent"}, "legend": {"fill": "independent"}}},
{"vconcat": [
{"width": 272, "height": 18, "view": {"fill": "#bdbdbd", "stroke": "#333333"}, "data": {"values": [{}]}, "mark": {"type": "text", "fontSize": 13.5, "color": "#1a1a1a"}, "encoding": {"text": {"value": "Spanish−English bilinguals"}}},
{"width": 272, "height": 164, "view": {"fill": "#ffffff", "stroke": "#333333"},
 "encoding": {
  "x": {"field": "x", "type": "quantitative", "scale": {"domain": [-1.67, 2.575], "nice": false, "zero": false}, "axis": {"title": "z-Proficiency (Lexitale)", "values": [-1.5,-1,-0.5,0,0.5,1,1.5,2,2.5], "labelExpr": "datum.value % 1 == 0 ? '' + datum.value : ''", "tickOpacity": {"condition": {"test": "datum.value % 1 != 0", "value": 0}, "value": 1}, "gridWidth": {"condition": {"test": "datum.value % 1 != 0", "value": 0.5}, "value": 1}}},
  "y": {"field": "y", "type": "quantitative", "scale": {"domain": [-0.257, -0.0924], "nice": false, "zero": false}, "axis": {"title": null, "values": [-0.25,-0.225,-0.2,-0.175,-0.15,-0.125,-0.1], "labelExpr": "abs(datum.value*20-round(datum.value*20))<0.01 ? replace(format(datum.value,'.2f'),'\u2212','-') : ''", "tickOpacity": {"condition": {"test": "abs(datum.value*20-round(datum.value*20))>0.01", "value": 0}, "value": 1}, "gridWidth": {"condition": {"test": "abs(datum.value*20-round(datum.value*20))>0.01", "value": 0.5}, "value": 1}}}
 },
 "layer": [
  {"data": {"name": "f6"}, "mark": {"type": "area", "color": "#999999", "opacity": 0.3}, "encoding": {"y": {"field": "lo", "type": "quantitative", "scale": {"domain": [-0.257, -0.0924], "nice": false, "zero": false}, "axis": {"title": null}}, "y2": {"field": "hi"}}},
  {"data": {"name": "f6"}, "mark": {"type": "line", "color": "#E8304A", "strokeWidth": 1.3}},
  {"data": {"name": "p6"}, "mark": {"type": "point", "shape": "diamond", "filled": true, "size": 48, "stroke": "#1a1a1a", "strokeWidth": 0.6, "opacity": 1}, "encoding": {"fill": {"field": "y", "type": "quantitative", "scale": {"scheme": {"name": "inferno", "extent": [0.1, 0.82]}}, "legend": null}}},
  {"data": {"name": "p6"}, "mark": {"type": "text", "fontSize": 8, "dx": 5, "dy": -5, "align": "left", "color": "#1a1a1a", "clip": true}, "encoding": {"text": {"field": "id", "type": "nominal"}}},
  {"data": {"values": [{"x": -1.48, "y": -0.249, "t": "rho = \u00a00.08"}]}, "mark": {"type": "text", "fontSize": 13, "align": "left", "baseline": "middle", "color": "#4d4d4d"}, "encoding": {"text": {"field": "t", "type": "nominal"}}}
 ]}
], "spacing": 0, "bounds": "flush", "resolve": {"scale": {"fill": "independent", "color": "independent"}, "legend": {"fill": "independent"}}}
]
},
{"width": 579, "height": 1, "view": {"stroke": null}, "data": {"values": [{"a": 0.005, "b": 1}]}, "mark": {"type": "rule", "color": "#666666", "strokeDash": [6, 3], "strokeWidth": 1}, "encoding": {"x": {"field": "a", "type": "quantitative", "scale": {"domain": [0, 1]}, "axis": null}, "x2": {"field": "b"}, "y": {"datum": 0.5, "type": "quantitative", "scale": {"domain": [0, 1]}, "axis": null}}},
{
"title": {"text": "Writing Duration", "fontSize": 20, "fontWeight": "normal", "anchor": "middle", "offset": 10.5, "dx": 20, "color": "#000000"},
"spacing": 6,
"resolve": {"scale": {"fill": "independent", "color": "independent"}, "legend": {"fill": "independent"}},
"hconcat": [
{"vconcat": [
{"width": 271, "height": 18, "view": {"fill": "#bdbdbd", "stroke": "#333333"}, "data": {"values": [{}]}, "mark": {"type": "text", "fontSize": 13.5, "color": "#1a1a1a"}, "encoding": {"text": {"value": "Chinese−English bilinguals"}}},
{"width": 271, "height": 164, "view": {"fill": "#ffffff", "stroke": "#333333"},
 "encoding": {
  "x": {"field": "x", "type": "quantitative", "scale": {"domain": [-1.48, 2.5], "nice": false, "zero": false}, "axis": {"title": "z-Proficiency (Lexitale)", "values": [-1,-0.5,0,0.5,1,1.5,2,2.5], "labelExpr": "datum.value % 1 == 0 ? '' + datum.value : ''", "tickOpacity": {"condition": {"test": "datum.value % 1 != 0", "value": 0}, "value": 1}, "gridWidth": {"condition": {"test": "datum.value % 1 != 0", "value": 0.5}, "value": 1}}},
  "y": {"field": "y", "type": "quantitative", "scale": {"domain": [-0.0245, 0.0327], "nice": false, "zero": false}, "axis": {"title": null, "values": [-0.02,-0.015,-0.01,-0.005,0,0.005,0.01,0.015,0.02,0.025,0.03], "labelExpr": "abs(datum.value*100-round(datum.value*100))<0.01 ? replace(format(datum.value,'.2f'),'\u2212','-') : ''", "tickOpacity": {"condition": {"test": "abs(datum.value*100-round(datum.value*100))>0.01", "value": 0}, "value": 1}, "gridWidth": {"condition": {"test": "abs(datum.value*100-round(datum.value*100))>0.01", "value": 0.5}, "value": 1}}}
 },
 "layer": [
  {"data": {"name": "f9"}, "mark": {"type": "area", "color": "#999999", "opacity": 0.3}, "encoding": {"y": {"field": "lo", "type": "quantitative", "scale": {"domain": [-0.0245, 0.0327], "nice": false, "zero": false}, "axis": {"title": null}}, "y2": {"field": "hi"}}},
  {"data": {"name": "f9"}, "mark": {"type": "line", "color": "#3366FF", "strokeWidth": 1.3}},
  {"data": {"name": "p9"}, "mark": {"type": "point", "shape": "diamond", "filled": true, "size": 48, "stroke": "#1a1a1a", "strokeWidth": 0.6, "opacity": 1}, "encoding": {"fill": {"field": "y", "type": "quantitative", "scale": {"scheme": {"name": "inferno", "extent": [0.1, 0.82]}}, "legend": null}}},
  {"data": {"name": "p9"}, "mark": {"type": "text", "fontSize": 8, "dx": 5, "dy": -5, "align": "left", "color": "#1a1a1a", "clip": true}, "encoding": {"text": {"field": "id", "type": "nominal"}}},
  {"data": {"values": [{"x": -1.48, "y": -0.0226, "t": "rho = \u00a0-0.28"}]}, "mark": {"type": "text", "fontSize": 13, "align": "left", "baseline": "middle", "color": "#4d4d4d"}, "encoding": {"text": {"field": "t", "type": "nominal"}}}
 ]}
], "spacing": 0, "bounds": "flush", "resolve": {"scale": {"fill": "independent", "color": "independent"}, "legend": {"fill": "independent"}}},
{"vconcat": [
{"width": 272, "height": 18, "view": {"fill": "#bdbdbd", "stroke": "#333333"}, "data": {"values": [{}]}, "mark": {"type": "text", "fontSize": 13.5, "color": "#1a1a1a"}, "encoding": {"text": {"value": "Spanish−English bilinguals"}}},
{"width": 272, "height": 164, "view": {"fill": "#ffffff", "stroke": "#333333"},
 "encoding": {
  "x": {"field": "x", "type": "quantitative", "scale": {"domain": [-1.67, 2.575], "nice": false, "zero": false}, "axis": {"title": "z-Proficiency (Lexitale)", "values": [-1.5,-1,-0.5,0,0.5,1,1.5,2,2.5], "labelExpr": "datum.value % 1 == 0 ? '' + datum.value : ''", "tickOpacity": {"condition": {"test": "datum.value % 1 != 0", "value": 0}, "value": 1}, "gridWidth": {"condition": {"test": "datum.value % 1 != 0", "value": 0.5}, "value": 1}}},
  "y": {"field": "y", "type": "quantitative", "scale": {"domain": [-0.112, -0.0663], "nice": false, "zero": false}, "axis": {"title": null, "values": [-0.11,-0.105,-0.1,-0.095,-0.09,-0.085,-0.08,-0.075,-0.07], "labelExpr": "abs(datum.value*100-round(datum.value*100))<0.01 ? replace(format(datum.value,'.2f'),'\u2212','-') : ''", "tickOpacity": {"condition": {"test": "abs(datum.value*100-round(datum.value*100))>0.01", "value": 0}, "value": 1}, "gridWidth": {"condition": {"test": "abs(datum.value*100-round(datum.value*100))>0.01", "value": 0.5}, "value": 1}}}
 },
 "layer": [
  {"data": {"name": "f10"}, "mark": {"type": "area", "color": "#999999", "opacity": 0.3}, "encoding": {"y": {"field": "lo", "type": "quantitative", "scale": {"domain": [-0.112, -0.0663], "nice": false, "zero": false}, "axis": {"title": null}}, "y2": {"field": "hi"}}},
  {"data": {"name": "f10"}, "mark": {"type": "line", "color": "#3366FF", "strokeWidth": 1.3}},
  {"data": {"name": "p10"}, "mark": {"type": "point", "shape": "diamond", "filled": true, "size": 48, "stroke": "#1a1a1a", "strokeWidth": 0.6, "opacity": 1}, "encoding": {"fill": {"field": "y", "type": "quantitative", "scale": {"scheme": {"name": "inferno", "extent": [0.1, 0.82]}}, "legend": null}}},
  {"data": {"name": "p10"}, "mark": {"type": "text", "fontSize": 8, "dx": 5, "dy": -5, "align": "left", "color": "#1a1a1a", "clip": true}, "encoding": {"text": {"field": "id", "type": "nominal"}}},
  {"data": {"values": [{"x": -1.51, "y": -0.110, "t": "rho = \u00a0-0.06"}]}, "mark": {"type": "text", "fontSize": 13, "align": "left", "baseline": "middle", "color": "#4d4d4d"}, "encoding": {"text": {"field": "t", "type": "nominal"}}}
 ]}
], "spacing": 0, "bounds": "flush", "resolve": {"scale": {"fill": "independent", "color": "independent"}, "legend": {"fill": "independent"}}}
]
}
]
},
{
"title": {"text": "Sensitivity to lexical frequency", "fontSize": 32, "fontWeight": "bold", "anchor": "middle", "offset": 18.5, "dx": 6, "color": "#000000"},
"spacing": 10,
"resolve": {"scale": {"fill": "independent", "color": "independent"}, "legend": {"fill": "independent"}},
"vconcat": [
{
"title": {"text": "Writing Latency", "fontSize": 20, "fontWeight": "normal", "anchor": "middle", "offset": 10.5, "dx": 18, "color": "#000000"},
"spacing": 15,
"resolve": {"scale": {"fill": "independent", "color": "independent"}, "legend": {"fill": "independent"}},
"hconcat": [
{"vconcat": [
{"width": 277, "height": 18, "view": {"fill": "#bdbdbd", "stroke": "#333333"}, "data": {"values": [{}]}, "mark": {"type": "text", "fontSize": 13.5, "color": "#1a1a1a"}, "encoding": {"text": {"value": "Chinese−English bilinguals"}}},
{"width": 277, "height": 164, "view": {"fill": "#ffffff", "stroke": "#333333"},
 "encoding": {
  "x": {"field": "x", "type": "quantitative", "scale": {"domain": [-1.48, 2.5], "nice": false, "zero": false}, "axis": {"title": "z-Proficiency (Lexitale)", "values": [-1,-0.5,0,0.5,1,1.5,2,2.5], "labelExpr": "datum.value % 1 == 0 ? '' + datum.value : ''", "tickOpacity": {"condition": {"test": "datum.value % 1 != 0", "value": 0}, "value": 1}, "gridWidth": {"condition": {"test": "datum.value % 1 != 0", "value": 0.5}, "value": 1}}},
  "y": {"field": "y", "type": "quantitative", "scale": {"domain": [-0.355, -0.009], "nice": false, "zero": false}, "axis": {"title": null, "values": [-0.35,-0.3,-0.25,-0.2,-0.15,-0.1,-0.05], "labelExpr": "abs(datum.value*10-round(datum.value*10))<0.01 ? replace(format(datum.value,'.1f'),'\u2212','-') : ''", "tickOpacity": {"condition": {"test": "abs(datum.value*10-round(datum.value*10))>0.01", "value": 0}, "value": 1}, "gridWidth": {"condition": {"test": "abs(datum.value*10-round(datum.value*10))>0.01", "value": 0.5}, "value": 1}}}
 },
 "layer": [
  {"data": {"name": "f3"}, "mark": {"type": "area", "color": "#999999", "opacity": 0.3}, "encoding": {"y": {"field": "lo", "type": "quantitative", "scale": {"domain": [-0.355, -0.009], "nice": false, "zero": false}, "axis": {"title": null}}, "y2": {"field": "hi"}}},
  {"data": {"name": "f3"}, "mark": {"type": "line", "color": "#FFA500", "strokeWidth": 1.3}},
  {"data": {"name": "p3"}, "mark": {"type": "point", "shape": "diamond", "filled": true, "size": 48, "stroke": "#1a1a1a", "strokeWidth": 0.6, "opacity": 1}, "encoding": {"fill": {"field": "y", "type": "quantitative", "scale": {"scheme": {"name": "viridis", "extent": [0.06, 0.9]}}, "legend": null}}},
  {"data": {"name": "p3"}, "mark": {"type": "text", "fontSize": 8, "dx": 5, "dy": -5, "align": "left", "color": "#1a1a1a", "clip": true}, "encoding": {"text": {"field": "id", "type": "nominal"}}},
  {"data": {"values": [{"x": -1.47, "y": -0.30, "t": "rho = \u00a0-0.08"}]}, "mark": {"type": "text", "fontSize": 13, "align": "left", "baseline": "middle", "color": "#4d4d4d"}, "encoding": {"text": {"field": "t", "type": "nominal"}}}
 ]}
], "spacing": 0, "bounds": "flush", "resolve": {"scale": {"fill": "independent", "color": "independent"}, "legend": {"fill": "independent"}}},
{"vconcat": [
{"width": 276, "height": 18, "view": {"fill": "#bdbdbd", "stroke": "#333333"}, "data": {"values": [{}]}, "mark": {"type": "text", "fontSize": 13.5, "color": "#1a1a1a"}, "encoding": {"text": {"value": "Spanish−English bilinguals"}}},
{"width": 276, "height": 164, "view": {"fill": "#ffffff", "stroke": "#333333"},
 "encoding": {
  "x": {"field": "x", "type": "quantitative", "scale": {"domain": [-1.67, 2.575], "nice": false, "zero": false}, "axis": {"title": "z-Proficiency (Lexitale)", "values": [-1.5,-1,-0.5,0,0.5,1,1.5,2,2.5], "labelExpr": "datum.value % 1 == 0 ? '' + datum.value : ''", "tickOpacity": {"condition": {"test": "datum.value % 1 != 0", "value": 0}, "value": 1}, "gridWidth": {"condition": {"test": "datum.value % 1 != 0", "value": 0.5}, "value": 1}}},
  "y": {"field": "y", "type": "quantitative", "scale": {"domain": [-0.423, 0.079], "nice": false, "zero": false}, "axis": {"title": null, "values": [-0.4,-0.35,-0.3,-0.25,-0.2,-0.15,-0.1,-0.05,0,0.05], "labelExpr": "abs(datum.value*10-round(datum.value*10))<0.01 ? replace(format(datum.value,'.1f'),'\u2212','-') : ''", "tickOpacity": {"condition": {"test": "abs(datum.value*10-round(datum.value*10))>0.01", "value": 0}, "value": 1}, "gridWidth": {"condition": {"test": "abs(datum.value*10-round(datum.value*10))>0.01", "value": 0.5}, "value": 1}}}
 },
 "layer": [
  {"data": {"name": "f4"}, "mark": {"type": "area", "color": "#999999", "opacity": 0.3}, "encoding": {"y": {"field": "lo", "type": "quantitative", "scale": {"domain": [-0.423, 0.079], "nice": false, "zero": false}, "axis": {"title": null}}, "y2": {"field": "hi"}}},
  {"data": {"name": "f4"}, "mark": {"type": "line", "color": "#FFA500", "strokeWidth": 1.3}},
  {"data": {"name": "p4"}, "mark": {"type": "point", "shape": "diamond", "filled": true, "size": 48, "stroke": "#1a1a1a", "strokeWidth": 0.6, "opacity": 1}, "encoding": {"fill": {"field": "y", "type": "quantitative", "scale": {"scheme": {"name": "viridis", "extent": [0.06, 0.9]}}, "legend": null}}},
  {"data": {"name": "p4"}, "mark": {"type": "text", "fontSize": 8, "dx": 5, "dy": -5, "align": "left", "color": "#1a1a1a", "clip": true}, "encoding": {"text": {"field": "id", "type": "nominal"}}},
  {"data": {"values": [{"x": -1.50, "y": -0.402, "t": "rho = \u00a0-0.12"}]}, "mark": {"type": "text", "fontSize": 13, "align": "left", "baseline": "middle", "color": "#4d4d4d"}, "encoding": {"text": {"field": "t", "type": "nominal"}}}
 ]}
], "spacing": 0, "bounds": "flush", "resolve": {"scale": {"fill": "independent", "color": "independent"}, "legend": {"fill": "independent"}}}
]
},
{"width": 590, "height": 1, "view": {"stroke": null}, "data": {"values": [{"a": 0.017, "b": 1}]}, "mark": {"type": "rule", "color": "#666666", "strokeDash": [6, 3], "strokeWidth": 1}, "encoding": {"x": {"field": "a", "type": "quantitative", "scale": {"domain": [0, 1]}, "axis": null}, "x2": {"field": "b"}, "y": {"datum": 0.5, "type": "quantitative", "scale": {"domain": [0, 1]}, "axis": null}}},
{
"title": {"text": "Interletter Interval", "fontSize": 20, "fontWeight": "normal", "anchor": "middle", "offset": 10.5, "dx": 18, "color": "#000000"},
"spacing": 15,
"resolve": {"scale": {"fill": "independent", "color": "independent"}, "legend": {"fill": "independent"}},
"hconcat": [
{"vconcat": [
{"width": 277, "height": 18, "view": {"fill": "#bdbdbd", "stroke": "#333333"}, "data": {"values": [{}]}, "mark": {"type": "text", "fontSize": 13.5, "color": "#1a1a1a"}, "encoding": {"text": {"value": "Chinese−English bilinguals"}}},
{"width": 277, "height": 164, "view": {"fill": "#ffffff", "stroke": "#333333"},
 "encoding": {
  "x": {"field": "x", "type": "quantitative", "scale": {"domain": [-1.48, 2.5], "nice": false, "zero": false}, "axis": {"title": "z-Proficiency (Lexitale)", "values": [-1,-0.5,0,0.5,1,1.5,2,2.5], "labelExpr": "datum.value % 1 == 0 ? '' + datum.value : ''", "tickOpacity": {"condition": {"test": "datum.value % 1 != 0", "value": 0}, "value": 1}, "gridWidth": {"condition": {"test": "datum.value % 1 != 0", "value": 0.5}, "value": 1}}},
  "y": {"field": "y", "type": "quantitative", "scale": {"domain": [-0.453, 0.174], "nice": false, "zero": false}, "axis": {"title": null, "values": [-0.4,-0.3,-0.2,-0.1,0,0.1], "labelExpr": "abs(datum.value*5-round(datum.value*5))<0.01 ? replace(format(datum.value,'.1f'),'\u2212','-') : ''", "tickOpacity": {"condition": {"test": "abs(datum.value*5-round(datum.value*5))>0.01", "value": 0}, "value": 1}, "gridWidth": {"condition": {"test": "abs(datum.value*5-round(datum.value*5))>0.01", "value": 0.5}, "value": 1}}}
 },
 "layer": [
  {"data": {"name": "f7"}, "mark": {"type": "area", "color": "#999999", "opacity": 0.3}, "encoding": {"y": {"field": "lo", "type": "quantitative", "scale": {"domain": [-0.453, 0.174], "nice": false, "zero": false}, "axis": {"title": null}}, "y2": {"field": "hi"}}},
  {"data": {"name": "f7"}, "mark": {"type": "line", "color": "#E8304A", "strokeWidth": 1.3}},
  {"data": {"name": "p7"}, "mark": {"type": "point", "shape": "diamond", "filled": true, "size": 48, "stroke": "#1a1a1a", "strokeWidth": 0.6, "opacity": 1}, "encoding": {"fill": {"field": "y", "type": "quantitative", "scale": {"scheme": {"name": "viridis", "extent": [0.06, 0.9]}}, "legend": null}}},
  {"data": {"name": "p7"}, "mark": {"type": "text", "fontSize": 8, "dx": 5, "dy": -5, "align": "left", "color": "#1a1a1a", "clip": true}, "encoding": {"text": {"field": "id", "type": "nominal"}}},
  {"data": {"values": [{"x": -1.47, "y": -0.40, "t": "rho = \u00a0-0.59"}]}, "mark": {"type": "text", "fontSize": 13, "align": "left", "baseline": "middle", "color": "#4d4d4d"}, "encoding": {"text": {"field": "t", "type": "nominal"}}}
 ]}
], "spacing": 0, "bounds": "flush", "resolve": {"scale": {"fill": "independent", "color": "independent"}, "legend": {"fill": "independent"}}},
{"vconcat": [
{"width": 276, "height": 18, "view": {"fill": "#bdbdbd", "stroke": "#333333"}, "data": {"values": [{}]}, "mark": {"type": "text", "fontSize": 13.5, "color": "#1a1a1a"}, "encoding": {"text": {"value": "Spanish−English bilinguals"}}},
{"width": 276, "height": 164, "view": {"fill": "#ffffff", "stroke": "#333333"},
 "encoding": {
  "x": {"field": "x", "type": "quantitative", "scale": {"domain": [-1.67, 2.575], "nice": false, "zero": false}, "axis": {"title": "z-Proficiency (Lexitale)", "values": [-1.5,-1,-0.5,0,0.5,1,1.5,2,2.5], "labelExpr": "datum.value % 1 == 0 ? '' + datum.value : ''", "tickOpacity": {"condition": {"test": "datum.value % 1 != 0", "value": 0}, "value": 1}, "gridWidth": {"condition": {"test": "datum.value % 1 != 0", "value": 0.5}, "value": 1}}},
  "y": {"field": "y", "type": "quantitative", "scale": {"domain": [-0.432, -0.093], "nice": false, "zero": false}, "axis": {"title": null, "values": [-0.4,-0.35,-0.3,-0.25,-0.2,-0.15,-0.1], "labelExpr": "abs(datum.value*10-round(datum.value*10))<0.01 ? replace(format(datum.value,'.1f'),'\u2212','-') : ''", "tickOpacity": {"condition": {"test": "abs(datum.value*10-round(datum.value*10))>0.01", "value": 0}, "value": 1}, "gridWidth": {"condition": {"test": "abs(datum.value*10-round(datum.value*10))>0.01", "value": 0.5}, "value": 1}}}
 },
 "layer": [
  {"data": {"name": "f8"}, "mark": {"type": "area", "color": "#999999", "opacity": 0.3}, "encoding": {"y": {"field": "lo", "type": "quantitative", "scale": {"domain": [-0.432, -0.093], "nice": false, "zero": false}, "axis": {"title": null}}, "y2": {"field": "hi"}}},
  {"data": {"name": "f8"}, "mark": {"type": "line", "color": "#E8304A", "strokeWidth": 1.3}},
  {"data": {"name": "p8"}, "mark": {"type": "point", "shape": "diamond", "filled": true, "size": 48, "stroke": "#1a1a1a", "strokeWidth": 0.6, "opacity": 1}, "encoding": {"fill": {"field": "y", "type": "quantitative", "scale": {"scheme": {"name": "viridis", "extent": [0.06, 0.9]}}, "legend": null}}},
  {"data": {"name": "p8"}, "mark": {"type": "text", "fontSize": 8, "dx": 5, "dy": -5, "align": "left", "color": "#1a1a1a", "clip": true}, "encoding": {"text": {"field": "id", "type": "nominal"}}},
  {"data": {"values": [{"x": -1.46, "y": -0.40, "t": "rho = \u00a00.12"}]}, "mark": {"type": "text", "fontSize": 13, "align": "left", "baseline": "middle", "color": "#4d4d4d"}, "encoding": {"text": {"field": "t", "type": "nominal"}}}
 ]}
], "spacing": 0, "bounds": "flush", "resolve": {"scale": {"fill": "independent", "color": "independent"}, "legend": {"fill": "independent"}}}
]
},
{"width": 590, "height": 1, "view": {"stroke": null}, "data": {"values": [{"a": 0.017, "b": 1}]}, "mark": {"type": "rule", "color": "#666666", "strokeDash": [6, 3], "strokeWidth": 1}, "encoding": {"x": {"field": "a", "type": "quantitative", "scale": {"domain": [0, 1]}, "axis": null}, "x2": {"field": "b"}, "y": {"datum": 0.5, "type": "quantitative", "scale": {"domain": [0, 1]}, "axis": null}}},
{
"title": {"text": "Writing Duration", "fontSize": 20, "fontWeight": "normal", "anchor": "middle", "offset": 10.5, "dx": 18, "color": "#000000"},
"spacing": 15,
"resolve": {"scale": {"fill": "independent", "color": "independent"}, "legend": {"fill": "independent"}},
"hconcat": [
{"vconcat": [
{"width": 277, "height": 18, "view": {"fill": "#bdbdbd", "stroke": "#333333"}, "data": {"values": [{}]}, "mark": {"type": "text", "fontSize": 13.5, "color": "#1a1a1a"}, "encoding": {"text": {"value": "Chinese−English bilinguals"}}},
{"width": 277, "height": 164, "view": {"fill": "#ffffff", "stroke": "#333333"},
 "encoding": {
  "x": {"field": "x", "type": "quantitative", "scale": {"domain": [-1.48, 2.5], "nice": false, "zero": false}, "axis": {"title": "z-Proficiency (Lexitale)", "values": [-1,-0.5,0,0.5,1,1.5,2,2.5], "labelExpr": "datum.value % 1 == 0 ? '' + datum.value : ''", "tickOpacity": {"condition": {"test": "datum.value % 1 != 0", "value": 0}, "value": 1}, "gridWidth": {"condition": {"test": "datum.value % 1 != 0", "value": 0.5}, "value": 1}}},
  "y": {"field": "y", "type": "quantitative", "scale": {"domain": [-0.2035, -0.1338], "nice": false, "zero": false}, "axis": {"title": null, "values": [-0.2,-0.19,-0.18,-0.17,-0.16,-0.15,-0.14], "labelExpr": "abs(datum.value*50-round(datum.value*50))<0.01 ? replace(format(datum.value,'.2f'),'\u2212','-') : ''", "tickOpacity": {"condition": {"test": "abs(datum.value*50-round(datum.value*50))>0.01", "value": 0}, "value": 1}, "gridWidth": {"condition": {"test": "abs(datum.value*50-round(datum.value*50))>0.01", "value": 0.5}, "value": 1}}}
 },
 "layer": [
  {"data": {"name": "f11"}, "mark": {"type": "area", "color": "#999999", "opacity": 0.3}, "encoding": {"y": {"field": "lo", "type": "quantitative", "scale": {"domain": [-0.2035, -0.1338], "nice": false, "zero": false}, "axis": {"title": null}}, "y2": {"field": "hi"}}},
  {"data": {"name": "f11"}, "mark": {"type": "line", "color": "#3366FF", "strokeWidth": 1.3}},
  {"data": {"name": "p11"}, "mark": {"type": "point", "shape": "diamond", "filled": true, "size": 48, "stroke": "#1a1a1a", "strokeWidth": 0.6, "opacity": 1}, "encoding": {"fill": {"field": "y", "type": "quantitative", "scale": {"scheme": {"name": "viridis", "extent": [0.06, 0.9]}}, "legend": null}}},
  {"data": {"name": "p11"}, "mark": {"type": "text", "fontSize": 8, "dx": 5, "dy": -5, "align": "left", "color": "#1a1a1a", "clip": true}, "encoding": {"text": {"field": "id", "type": "nominal"}}},
  {"data": {"values": [{"x": -1.47, "y": -0.200, "t": "rho = \u00a0-0.17"}]}, "mark": {"type": "text", "fontSize": 13, "align": "left", "baseline": "middle", "color": "#4d4d4d"}, "encoding": {"text": {"field": "t", "type": "nominal"}}}
 ]}
], "spacing": 0, "bounds": "flush", "resolve": {"scale": {"fill": "independent", "color": "independent"}, "legend": {"fill": "independent"}}},
{"vconcat": [
{"width": 276, "height": 18, "view": {"fill": "#bdbdbd", "stroke": "#333333"}, "data": {"values": [{}]}, "mark": {"type": "text", "fontSize": 13.5, "color": "#1a1a1a"}, "encoding": {"text": {"value": "Spanish−English bilinguals"}}},
{"width": 276, "height": 164, "view": {"fill": "#ffffff", "stroke": "#333333"},
 "encoding": {
  "x": {"field": "x", "type": "quantitative", "scale": {"domain": [-1.67, 2.575], "nice": false, "zero": false}, "axis": {"title": "z-Proficiency (Lexitale)", "values": [-1.5,-1,-0.5,0,0.5,1,1.5,2,2.5], "labelExpr": "datum.value % 1 == 0 ? '' + datum.value : ''", "tickOpacity": {"condition": {"test": "datum.value % 1 != 0", "value": 0}, "value": 1}, "gridWidth": {"condition": {"test": "datum.value % 1 != 0", "value": 0.5}, "value": 1}}},
  "y": {"field": "y", "type": "quantitative", "scale": {"domain": [-0.3276, 0.0138], "nice": false, "zero": false}, "axis": {"title": null, "values": [-0.3,-0.25,-0.2,-0.15,-0.1,-0.05,0], "labelExpr": "abs(datum.value*10-round(datum.value*10))<0.01 ? replace(format(datum.value,'.1f'),'\u2212','-') : ''", "tickOpacity": {"condition": {"test": "abs(datum.value*10-round(datum.value*10))>0.01", "value": 0}, "value": 1}, "gridWidth": {"condition": {"test": "abs(datum.value*10-round(datum.value*10))>0.01", "value": 0.5}, "value": 1}}}
 },
 "layer": [
  {"data": {"name": "f12"}, "mark": {"type": "area", "color": "#999999", "opacity": 0.3}, "encoding": {"y": {"field": "lo", "type": "quantitative", "scale": {"domain": [-0.3276, 0.0138], "nice": false, "zero": false}, "axis": {"title": null}}, "y2": {"field": "hi"}}},
  {"data": {"name": "f12"}, "mark": {"type": "line", "color": "#3366FF", "strokeWidth": 1.3}},
  {"data": {"name": "p12"}, "mark": {"type": "point", "shape": "diamond", "filled": true, "size": 48, "stroke": "#1a1a1a", "strokeWidth": 0.6, "opacity": 1}, "encoding": {"fill": {"field": "y", "type": "quantitative", "scale": {"scheme": {"name": "viridis", "extent": [0.06, 0.9]}}, "legend": null}}},
  {"data": {"name": "p12"}, "mark": {"type": "text", "fontSize": 8, "dx": 5, "dy": -5, "align": "left", "color": "#1a1a1a", "clip": true}, "encoding": {"text": {"field": "id", "type": "nominal"}}},
  {"data": {"values": [{"x": -1.34, "y": -0.30, "t": "rho = \u00a00"}]}, "mark": {"type": "text", "fontSize": 13, "align": "left", "baseline": "middle", "color": "#4d4d4d"}, "encoding": {"text": {"field": "t", "type": "nominal"}}}
 ]}
], "spacing": 0, "bounds": "flush", "resolve": {"scale": {"fill": "independent", "color": "independent"}, "legend": {"fill": "independent"}}}
]
}
]
}
]
}
